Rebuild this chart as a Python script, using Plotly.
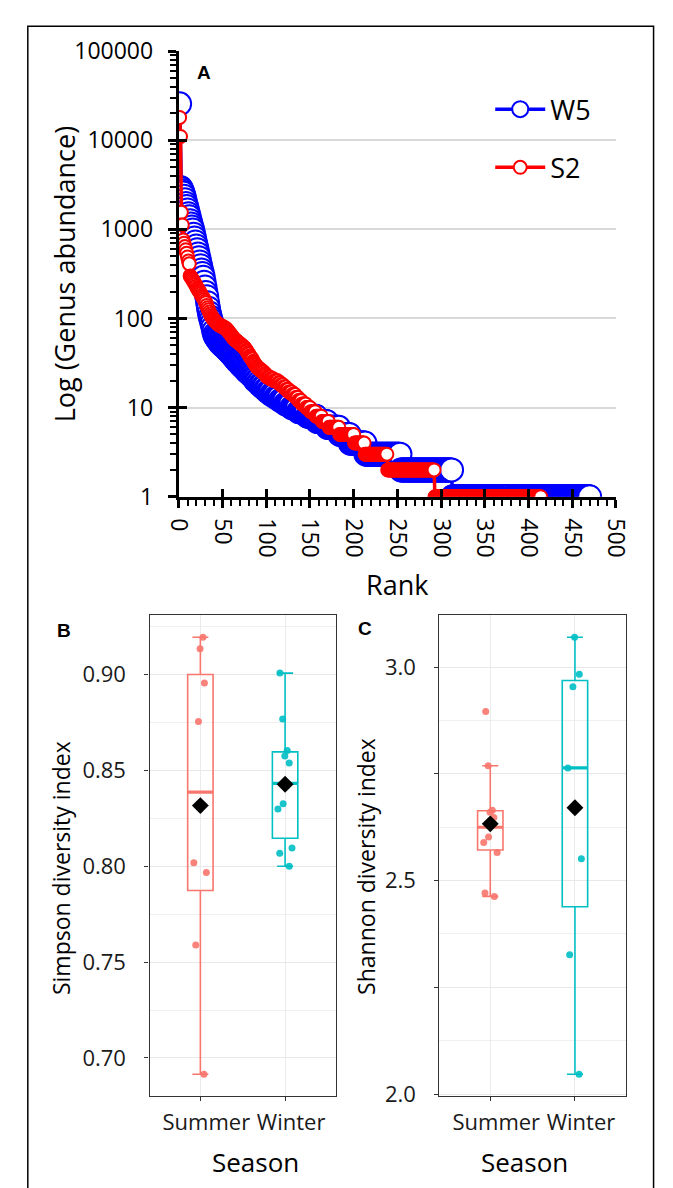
import numpy as np
import plotly.graph_objects as go

# ---------------- data ----------------
# Panel A: rank-abundance of genera (sorted abundances), top ranks read individually
w5_top = [25600,
          2950, 2850, 2700, 2550, 2350, 2150, 1950, 1800, 1650,
          1500, 1380, 1250, 1150, 1060, 980, 880, 800, 720, 650,
          590, 530, 480, 430, 390, 350, 320, 290, 255, 225,
          195, 175, 150, 130, 115, 104, 96, 88, 80, 72,
          66, 63, 61, 59, 57, 55, 54, 52, 51, 50,
          49, 48, 47, 46, 45, 44, 43, 42, 41, 40,
          39, 38, 37, 36, 35, 34, 33, 33, 32, 31,
          30, 30, 29, 28, 28, 27, 26, 26, 25, 25,
          24, 24, 23, 23, 22, 22, 21]
# low abundances form plateaus: abundance value and how many genera have it
w5_tail_values = [20, 19, 18, 17, 16, 15, 14, 13, 12, 11, 10, 9, 8, 7, 6, 5, 4, 3, 2, 1]
w5_tail_counts = [3, 2, 3, 3, 3, 4, 5, 5, 6, 7, 8, 10, 11, 12, 14, 12, 18, 40, 59, 158]

s2_top = [18000, 11000, 1550, 1120, 760, 700, 640, 590, 540, 490,
          440, 410, 300, 290, 280, 270, 260, 250, 240, 230,
          220, 212, 205, 198, 190, 182, 176, 170, 163, 156,
          150, 140, 132, 125, 118, 112, 107, 103, 100, 97,
          95, 92, 90, 88, 86, 85, 84, 83, 82, 81,
          80, 79, 78, 77, 75, 73, 71, 69, 67, 65,
          63, 61, 60, 58, 57, 56, 55, 54, 53, 52,
          51, 50, 49, 48, 47, 46, 44, 43, 41, 40,
          38, 37, 36, 35, 33, 32, 31, 30, 29, 28,
          28, 27, 27, 26, 26, 25, 25, 24, 24, 23]
s2_tail_values = [22, 21, 20, 19, 18, 17, 16, 15, 14, 13, 12, 11, 10, 9, 8, 7, 6, 5, 4, 3, 2, 1]
s2_tail_counts = [4, 4, 5, 3, 3, 3, 3, 4, 4, 3, 4, 5, 5, 6, 7, 8, 12, 17, 12, 26, 54, 122]

series_names = ["W5", "S2"]

# Panels B and C: diversity indices per sample
seasons = ["Summer", "Winter"]
simpson_summer = [0.9195, 0.9135, 0.8956, 0.8756, 0.8019, 0.7968, 0.7590, 0.6915]
simpson_winter = [0.9008, 0.8769, 0.8604, 0.8576, 0.8539, 0.8326, 0.8299, 0.8096, 0.8068, 0.8000]
shannon_summer = [2.896, 2.769, 2.665, 2.660, 2.648, 2.602, 2.589, 2.566, 2.471, 2.463]
shannon_winter = [3.0699, 2.9831, 2.9543, 2.7640, 2.5509, 2.3265, 2.0464]

# ---------------- helpers ----------------
W, H = 673, 1188


def xd(a, b):
    return [a / W, b / W]


def yd(top, bottom):
    return [1 - bottom / H, 1 - top / H]


def build(top, vals, counts):
    arr = np.concatenate([np.array(top, float), np.repeat(vals, counts)])
    return np.arange(1, len(arr) + 1), arr


w5_rank, w5_abund = build(w5_top, w5_tail_values, w5_tail_counts)
s2_rank, s2_abund = build(s2_top, s2_tail_values, s2_tail_counts)

BLUE, RED = "#0000FF", "#FF0000"
C_SUM, C_WIN = "#F8766D", "#00BFC4"
FONT = "Open Sans"

fig = go.Figure()

# ---------------- Panel A ----------------
fig.add_trace(go.Scatter(
    x=w5_rank, y=w5_abund, mode="lines+markers", name=series_names[0],
    legendgroup="w5",
    line=dict(color=BLUE, width=3.5),
    marker=dict(symbol="circle", size=23, color="white", line=dict(color=BLUE, width=2)),
    xaxis="x", yaxis="y", hoverinfo="skip"))
fig.add_trace(go.Scatter(
    x=s2_rank, y=s2_abund, mode="lines+markers", name=series_names[1],
    legendgroup="s2",
    line=dict(color=RED, width=3.5),
    marker=dict(symbol="circle", size=13, color="white", line=dict(color=RED, width=2)),
    xaxis="x", yaxis="y", hoverinfo="skip"))
# dummy trace so the overlay axes (crossing major ticks) are drawn
fig.add_trace(go.Scatter(x=[None], y=[None], xaxis="x4", yaxis="y4",
                         showlegend=False, hoverinfo="skip"))


# ---------------- Panels B, C ----------------
def box_stats(vals):
    v = np.sort(np.array(vals, float))
    q1, med, q3 = np.percentile(v, [25, 50, 75])
    iqr = q3 - q1
    lo = v[v >= q1 - 1.5 * iqr].min()
    hi = v[v <= q3 + 1.5 * iqr].max()
    return q1, med, q3, lo, hi


def add_box_panel(groups, xa, ya):
    for i, (vals, col) in enumerate(groups):
        pos = i + 1
        q1, med, q3, lo, hi = box_stats(vals)
        # box + whiskers (R type-7 quartiles, whiskers to last point within 1.5 IQR)
        fig.add_trace(go.Box(
            x=[pos], q1=[q1], median=[med], q3=[q3], lowerfence=[lo], upperfence=[hi],
            width=0.3, xaxis=xa, yaxis=ya, boxpoints=False,
            fillcolor="rgba(255,255,255,0)",
            line=dict(color=col, width=1.6),
            whiskerwidth=0.63, showlegend=False, hoverinfo="skip"))
        # jittered sample points
        fig.add_trace(go.Box(
            y=vals, x0=pos, width=0.3, xaxis=xa, yaxis=ya,
            boxpoints="all", jitter=0.7, pointpos=0,
            fillcolor="rgba(255,255,255,0)",
            line=dict(color="rgba(0,0,0,0)", width=0),
            marker=dict(color=col, size=7, opacity=0.9),
            whiskerwidth=0, showlegend=False, hoverinfo="skip"))
        fig.add_trace(go.Scatter(
            x=[pos - 0.15, pos + 0.15], y=[med, med], mode="lines",
            line=dict(color=col, width=3.2), xaxis=xa, yaxis=ya,
            showlegend=False, hoverinfo="skip"))
        fig.add_trace(go.Scatter(
            x=[pos], y=[float(np.mean(vals))], mode="markers",
            marker=dict(symbol="diamond", size=13, color="black"),
            xaxis=xa, yaxis=ya, showlegend=False, hoverinfo="skip"))


add_box_panel([(simpson_summer, C_SUM), (simpson_winter, C_WIN)], "x2", "y2")
add_box_panel([(shannon_summer, C_SUM), (shannon_winter, C_WIN)], "x3", "y3")


def padded(*lists):
    allv = np.concatenate([np.array(l, float) for l in lists])
    lo, hi = allv.min(), allv.max()
    p = 0.05 * (hi - lo)
    return [lo - p, hi + p]


tick_font_A = dict(family=FONT, size=23, color="black")
tick_font_B = dict(family=FONT, size=22, color="#1a1a1a")

common_x_box = dict(
    range=[0.4, 2.6], tickvals=[1, 2], ticktext=seasons,
    ticks="outside", ticklen=4, tickwidth=1.2, tickcolor="#333333",
    showline=True, mirror=True, linecolor="#333333", linewidth=1.4,
    showgrid=True, gridcolor="#ebebeb", gridwidth=1.3, zeroline=False,
    tickfont=tick_font_B, ticklabelshift=6, ticklabelstandoff=2)
common_y_box = dict(
    ticks="outside", ticklen=4, tickwidth=1.2, tickcolor="#333333",
    showline=True, mirror=True, linecolor="#333333", linewidth=1.4,
    showgrid=True, gridcolor="#e8e8e8", gridwidth=1.4, zeroline=False,
    tickfont=tick_font_B, ticklabelstandoff=14)

fig.update_layout(
    width=W, height=H, margin=dict(l=0, r=0, t=0, b=0),
    paper_bgcolor="white", plot_bgcolor="rgba(0,0,0,0)",
    boxmode="overlay",
    xaxis=dict(domain=xd(173, 632), anchor="y", range=[0, 500],
               tick0=0, dtick=50, ticks="outside", ticklen=8, tickwidth=3,
               tickcolor="black", tickangle=90, tickfont=tick_font_A,
               showline=True, linecolor="black", linewidth=3,
               showgrid=False, zeroline=False, ticklabelstandoff=6,
               minor=dict(dtick=10, ticks="outside", ticklen=6, tickwidth=2,
                          tickcolor="black", showgrid=False)),
    yaxis=dict(domain=yd(35, 493), anchor="x", type="log", range=[0, 5],
               dtick=1, tickformat="d", ticks="outside", ticklen=8, tickwidth=3,
               tickcolor="black", tickfont=tick_font_A,
               showline=True, linecolor="black", linewidth=3,
               showgrid=True, gridcolor="#d9d9d9", gridwidth=1.5, zeroline=False,
               ticklabelstandoff=10,
               minor=dict(dtick="D1", ticks="outside", ticklen=6, tickwidth=2,
                          tickcolor="black", showgrid=False)),
    xaxis4=dict(overlaying="x", anchor="y", range=[0, 500], tick0=0, dtick=50,
                ticks="inside", ticklen=8, tickwidth=3, tickcolor="black",
                showticklabels=False, showgrid=False, zeroline=False, showline=False),
    yaxis4=dict(overlaying="y", anchor="x", type="log", range=[0, 5], dtick=1,
                ticks="inside", ticklen=8, tickwidth=3, tickcolor="black",
                showticklabels=False, showgrid=False, zeroline=False, showline=False),
    xaxis2=dict(domain=xd(142.3, 338), anchor="y2", **common_x_box),
    yaxis2=dict(domain=yd(615, 1109), anchor="x2",
                range=padded(simpson_summer, simpson_winter),
                tick0=0.7, dtick=0.05, tickformat=".2f",
                minor=dict(tick0=0.675, dtick=0.05, showgrid=True,
                           gridcolor="#f0f0f0", gridwidth=1),
                **common_y_box),
    xaxis3=dict(domain=xd(446.7, 642.3), anchor="y3", **common_x_box),
    yaxis3=dict(domain=yd(615, 1109), anchor="x3",
                range=padded(shannon_summer, shannon_winter),
                tickmode="array", tickvals=[2.0, 2.25, 2.5, 2.75, 3.0],
                ticktext=["2.0", "", "2.5", "", "3.0"],
                minor=dict(tick0=2.125, dtick=0.25, showgrid=True,
                           gridcolor="#f0f0f0", gridwidth=1),
                **common_y_box),
    legend=dict(x=500 / W, y=1 - 70 / H, xanchor="left", yanchor="top",
                font=dict(family=FONT, size=27, color="black"),
                bgcolor="rgba(0,0,0,0)", traceorder="grouped",
                tracegroupgap=20, itemwidth=50),
    showlegend=True,
)

ann = [
    dict(text="<b>A</b>", x=199 / W, y=1 - 57 / H, font=dict(family="Liberation Sans", size=19, color="black")),
    dict(text="Log (Genus abundance)", x=53 / W, y=1 - 264 / H, textangle=-90,
         font=dict(family=FONT, size=27, color="black")),
    dict(text="Rank", x=402 / W, y=1 - 583 / H, font=dict(family=FONT, size=27, color="black")),
    dict(text="<b>B</b>", x=53 / W, y=1 - 630 / H, font=dict(family="Liberation Sans", size=19, color="black")),
    dict(text="<b>C</b>", x=368 / W, y=1 - 628.5 / H, font=dict(family="Liberation Sans", size=19, color="black")),
    dict(text="Simpson diversity index", x=50 / W, y=1 - 875 / H, textangle=-90,
         font=dict(family=FONT, size=23, color="black")),
    dict(text="Shannon diversity index", x=370 / W, y=1 - 873 / H, textangle=-90,
         font=dict(family=FONT, size=23, color="black")),
    dict(text="Season", x=254 / W, y=1 - 1177 / H, font=dict(family=FONT, size=26, color="black")),
    dict(text="Season", x=536 / W, y=1 - 1177 / H, font=dict(family=FONT, size=26, color="black")),
]
for a in ann:
    a.update(xref="paper", yref="paper", xanchor="center", yanchor="middle", showarrow=False)
fig.update_layout(annotations=ann)

fig.add_shape(type="rect", xref="paper", yref="paper",
              x0=14.5 / W, x1=671.5 / W, y0=-0.02, y1=1 - 9.5 / H,
              line=dict(color="black", width=1.5), fillcolor="rgba(0,0,0,0)", layer="below")

fig.write_html("out.html",
               config={"displayModeBar": False},
               post_script="document.body.style.margin='0px';document.documentElement.style.overflow='hidden';")
